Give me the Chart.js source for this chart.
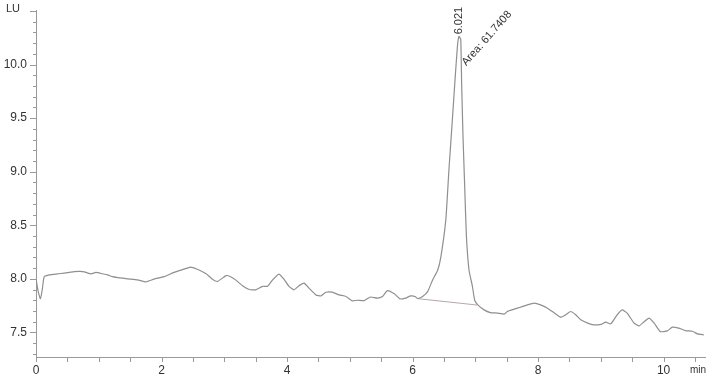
<!DOCTYPE html>
<html>
<head>
<meta charset="utf-8">
<script src="https://cdn.jsdelivr.net/npm/chart.js@4"></script>
<style>
  html, body { margin: 0; padding: 0; background: #fff; }
  #wrap { width: 709px; height: 378px; position: relative; }
</style>
</head>
<body>
<div id="wrap"><canvas id="chromChart"></canvas></div>
<script>
// retention time (min) and detector signal (LU)
const times = [
  0.00, 0.035, 0.07, 0.10, 0.13, 0.20, 0.26, 0.345, 0.45, 0.53, 0.61, 0.70, 0.77, 0.876, 0.955,
  1.06, 1.14, 1.22, 1.30, 1.46, 1.62, 1.75, 1.88, 2.04, 2.20, 2.36, 2.46, 2.57, 2.71, 2.81,
  2.89, 3.03, 3.10, 3.18, 3.29, 3.40, 3.50, 3.61, 3.69, 3.77, 3.87, 3.95, 4.03, 4.11, 4.19,
  4.27, 4.35, 4.46, 4.54, 4.62, 4.72, 4.83, 4.94, 5.04, 5.12, 5.23, 5.33, 5.44, 5.52, 5.60,
  5.71, 5.80, 5.89, 5.97, 6.04, 6.08, 6.16, 6.24, 6.32, 6.40, 6.45, 6.53, 6.58, 6.635, 6.677,
  6.715, 6.74, 6.768, 6.783, 6.804, 6.831, 6.858, 6.90, 6.954, 6.99, 7.04, 7.14, 7.24, 7.35,
  7.46, 7.51, 7.62, 7.72, 7.83, 7.94, 8.04, 8.15, 8.25, 8.36, 8.44, 8.52, 8.60, 8.68, 8.79,
  8.89, 9.00, 9.08, 9.16, 9.26, 9.34, 9.42, 9.53, 9.61, 9.69, 9.77, 9.85, 9.95, 10.06, 10.14,
  10.24, 10.35, 10.46, 10.54, 10.64
];
const signal = [
  8.00, 7.88, 7.815, 7.90, 8.02, 8.035, 8.04, 8.047, 8.053, 8.06, 8.068, 8.07, 8.065, 8.047, 8.06,
  8.047, 8.037, 8.02, 8.012, 8.00, 7.99, 7.972, 7.997, 8.02, 8.06, 8.09, 8.11, 8.09, 8.047, 7.997,
  7.975, 8.03, 8.02, 7.99, 7.935, 7.90, 7.897, 7.93, 7.93, 7.99, 8.044, 7.997, 7.93, 7.897, 7.935,
  7.96, 7.913, 7.85, 7.84, 7.875, 7.875, 7.85, 7.835, 7.794, 7.80, 7.797, 7.83, 7.82, 7.835, 7.89,
  7.86, 7.813, 7.82, 7.84, 7.835, 7.816, 7.835, 7.88, 7.99, 8.08, 8.20, 8.55, 9.02, 9.49, 9.86,
  10.17, 10.264, 10.234, 9.80, 9.33, 8.86, 8.40, 8.08, 7.93, 7.80, 7.757, 7.71, 7.685, 7.68,
  7.67, 7.695, 7.717, 7.735, 7.757, 7.773, 7.757, 7.726, 7.685, 7.642, 7.664, 7.695, 7.664, 7.617, 7.586,
  7.57, 7.574, 7.595, 7.58, 7.664, 7.71, 7.68, 7.586, 7.56, 7.60, 7.633, 7.586, 7.507, 7.514, 7.549,
  7.54, 7.517, 7.51, 7.486, 7.477
];

// integration baseline under the peak
const baseTimes = [6.08, 7.03];
const baseSignal = [7.815, 7.755];

// peak annotation
const peakTime = 6.74;
const peakSignal = 10.264;
const peakLabel = "6.021";
const areaLabel = "Area: 61.7408";

// axis labels
const xTickValues = [0, 2, 4, 6, 8, 10];
const yTickValues = [7.5, 8, 8.5, 9, 9.5, 10];

const axisGray = "#9a9a9a";
const textGray = "#333";

// tick marks (major + minor) and peak labels
const extrasPlugin = {
  id: "extras",
  afterDraw(chart) {
    const ctx = chart.ctx;
    const xs = chart.scales.x;
    const ys = chart.scales.y;
    const area = chart.chartArea;
    ctx.save();
    ctx.strokeStyle = axisGray;
    ctx.lineWidth = 1;
    ctx.beginPath();
    // y ticks every 0.1, longer every 0.5
    for (let i = 73; i <= 105; i++) {
      const py = Math.round(ys.getPixelForValue(i / 10)) + 0.5;
      const len = (i % 5 === 0) ? 6 : 3;
      ctx.moveTo(area.left - len, py);
      ctx.lineTo(area.left, py);
    }
    // x ticks every 0.5
    for (let i = 0; i <= 21; i++) {
      const px = Math.round(xs.getPixelForValue(i / 2)) + 0.5;
      ctx.moveTo(px, area.bottom);
      ctx.lineTo(px, area.bottom + 5);
    }
    ctx.stroke();

    // axis units
    ctx.fillStyle = textGray;
    ctx.font = "11px 'Liberation Sans', Arial, sans-serif";
    ctx.textAlign = "left";
    ctx.textBaseline = "middle";
    ctx.fillText("LU", 6, 9);
    ctx.font = "10px 'Liberation Sans', Arial, sans-serif";
    ctx.fillText("min", 690, 370);

    // peak labels
    const ax = xs.getPixelForValue(peakTime);
    const ay = ys.getPixelForValue(peakSignal);
    ctx.font = "11px 'Liberation Sans', Arial, sans-serif";
    ctx.save();
    ctx.translate(ax, ay - 2);
    ctx.rotate(-Math.PI / 2);
    ctx.fillText(peakLabel, 0, 0);
    ctx.restore();

    ctx.save();
    ctx.translate(ax + 5, ay + 28);
    ctx.rotate(-Math.PI * 0.27);
    ctx.fillText(areaLabel, 0, 0);
    ctx.restore();

    ctx.restore();
  }
};

new Chart(document.getElementById("chromChart"), {
  type: "line",
  data: {
    datasets: [
      {
        data: times.map((t, i) => ({ x: t, y: signal[i] })),
        borderColor: "#8f8f8f",
        borderWidth: 1.2,
        pointRadius: 0,
        tension: 0.15,
        fill: false
      },
      {
        data: baseTimes.map((t, i) => ({ x: t, y: baseSignal[i] })),
        borderColor: "#b8a6a6",
        borderWidth: 1,
        pointRadius: 0,
        fill: false
      }
    ]
  },
  options: {
    responsive: true,
    maintainAspectRatio: false,
    animation: false,
    layout: { padding: { top: 10, right: 4, left: 0, bottom: 0 } },
    plugins: {
      legend: { display: false },
      tooltip: { enabled: false }
    },
    scales: {
      x: {
        type: "linear",
        min: 0,
        max: 10.66,
        grid: { display: false, drawTicks: false },
        border: { display: true, color: axisGray },
        afterBuildTicks: (scale) => { scale.ticks = xTickValues.map(v => ({ value: v })); },
        afterFit: (scale) => { scale.height = 21; scale.paddingLeft = 0; scale.paddingRight = 0; },
        ticks: {
          padding: 6,
          maxRotation: 0,
          color: textGray,
          font: { family: "'Liberation Sans', Arial, sans-serif", size: 12 }
        }
      },
      y: {
        type: "linear",
        min: 7.27,
        max: 10.51,
        grid: { display: false, drawTicks: false },
        border: { display: true, color: axisGray },
        afterBuildTicks: (scale) => { scale.ticks = yTickValues.map(v => ({ value: v })); },
        afterFit: (scale) => { scale.width = 36; scale.paddingTop = 0; scale.paddingBottom = 0; },
        ticks: {
          padding: 9,
          color: textGray,
          font: { family: "'Liberation Sans', Arial, sans-serif", size: 12 }
        }
      }
    }
  },
  plugins: [extrasPlugin]
});
</script>
</body>
</html>
